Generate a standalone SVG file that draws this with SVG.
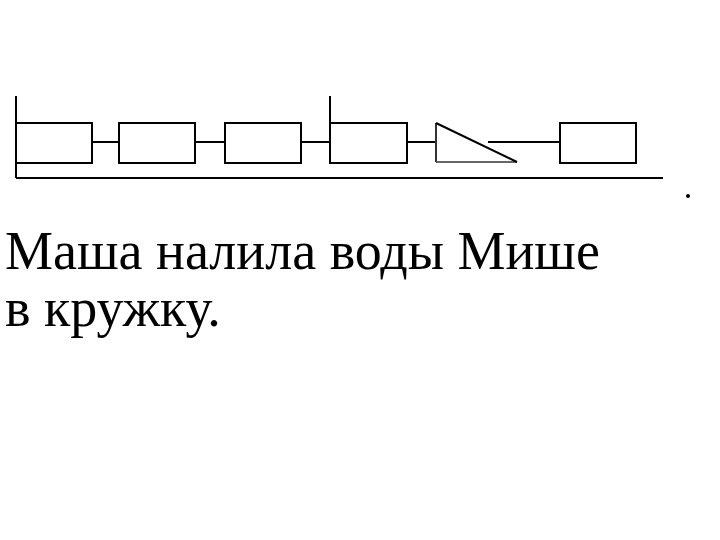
<svg xmlns="http://www.w3.org/2000/svg" width="720" height="540" viewBox="0 0 720 540">
<style>
.b{fill:#fff;stroke:#000;stroke-width:2}
.c{stroke:#000;stroke-width:2;fill:none}
</style>
<rect width="720" height="540" fill="#fff"/>
<g id="connectors">
<line class="c" x1="16" y1="96" x2="16" y2="178"/>
<line class="c" x1="16" y1="178" x2="663" y2="178"/>
<line class="c" x1="330" y1="96" x2="330" y2="123"/>
<line class="c" x1="89" y1="142" x2="119" y2="142"/>
<line class="c" x1="195" y1="142" x2="225" y2="142"/>
<line class="c" x1="301" y1="142" x2="330" y2="142"/>
<line class="c" x1="407" y1="142" x2="436" y2="142"/>
<line class="c" x1="488" y1="142" x2="560" y2="142"/>
</g>
<g id="box1"><rect class="b" x="16" y="123" width="76" height="40"/></g>
<g id="box2"><rect class="b" x="119" y="123" width="76" height="40"/></g>
<g id="box3"><rect class="b" x="225" y="123" width="76" height="40"/></g>
<g id="box4"><rect class="b" x="330" y="123" width="77" height="40"/></g>
<g id="triangle">
<line x1="436" y1="162" x2="517" y2="162" stroke="#666" stroke-width="2"/>
<line x1="436" y1="162" x2="436" y2="123" stroke="#333" stroke-width="2"/>
<line class="c" x1="436" y1="123" x2="517" y2="162"/>
</g>
<g id="box5"><rect class="b" x="560" y="123" width="76" height="40"/></g>
<g id="dot"><circle cx="688" cy="196" r="2" fill="#000"/></g>
<g id="text" font-family="'Liberation Serif', 'Times New Roman', serif" font-size="54" fill="#000">
<text x="5" y="269">Маша налила воды Мише</text>
<text x="5" y="326">в кружку.</text>
</g>
</svg>
